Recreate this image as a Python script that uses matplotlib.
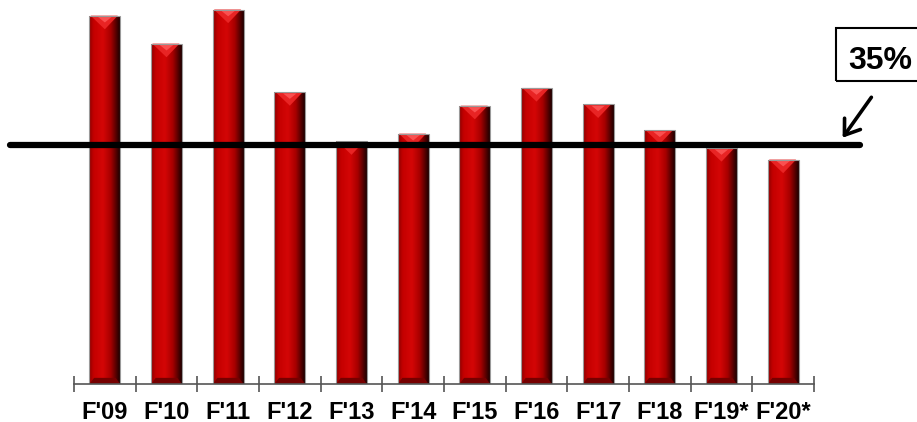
import numpy as np
import matplotlib.pyplot as plt
from matplotlib.colors import LinearSegmentedColormap
from matplotlib.patches import Polygon, Rectangle, FancyArrowPatch

plt.rcParams['font.family'] = ['Liberation Sans', 'DejaVu Sans']

labels = ["F'09", "F'10", "F'11", "F'12", "F'13", "F'14", "F'15", "F'16",
          "F'17", "F'18", "F'19*", "F'20*"]
values = [54.0, 49.9, 54.9, 42.8, 35.6, 36.7, 40.8, 43.4, 41.0, 37.2, 34.6, 32.9]
target = 35
target_label = "35%"

W, H = 917, 422
fig = plt.figure(figsize=(W / 100, H / 100), dpi=100)
ax = fig.add_axes([74 / W, 38 / H, 740 / W, 382 / H])

x = np.arange(len(labels))
bars = ax.bar(x, values, width=0.5, color='none', edgecolor='#9a9a9a',
              linewidth=0.8, zorder=2)

# cylinder-like shading across each bar
shade = LinearSegmentedColormap.from_list('bar', [
    (0.0, '#8a0000'), (0.15, '#c40000'), (0.45, '#d40606'),
    (0.7, '#a80000'), (0.88, '#540000'), (1.0, '#1c0000')])
grad = np.linspace(0, 1, 256).reshape(1, -1)

for b, v in zip(bars, values):
    x0, w = b.get_x(), b.get_width()
    im = ax.imshow(grad, cmap=shade, extent=[x0, x0 + w, 0, v], aspect='auto',
                   interpolation='bicubic', zorder=1)
    im.set_clip_path(b)
    # bevel at the top
    ax.add_patch(Polygon([[x0 + 0.02, v], [x0 + w - 0.04, v], [x0 + w / 2, v - 2.0]],
                         closed=True, fc='#e82424', ec='none', zorder=1.5))
    ax.add_patch(Polygon([[x0 + w * 0.28, v - 0.2], [x0 + w * 0.72, v - 0.2],
                          [x0 + w / 2, v - 1.0]],
                         closed=True, fc='#fa5050', ec='none', zorder=1.6))
    # darker bevel at the base
    ax.add_patch(Polygon([[x0, 0], [x0 + w, 0], [x0 + w * 0.85, 0.9], [x0 + w * 0.15, 0.9]],
                         closed=True, fc='#760000', ec='none', zorder=1.5))

ax.set_xlim(-0.5, len(labels) - 0.5)
ax.set_ylim(0, 56)

ax.set_xticks(x)
ax.set_xticklabels(labels, fontsize=17, fontweight='bold')
ax.set_xticks(np.arange(-0.5, len(labels), 1), minor=True)
ax.tick_params(axis='x', which='major', length=0, pad=12)
ax.tick_params(axis='x', which='minor', direction='inout', length=11,
               width=1.2, color='#555555')
ax.set_yticks([])
for s in ['top', 'left', 'right']:
    ax.spines[s].set_visible(False)
ax.spines['bottom'].set_color('#555555')
ax.spines['bottom'].set_linewidth(1.2)

# target line
ax.plot([-1.54, 12.25], [target, target], color='black', lw=4.5,
        solid_capstyle='round', clip_on=False, zorder=3)

# label box and arrow
fig.patches.append(Rectangle((836 / W, (H - 81) / H), 100 / W, 53 / H,
                             transform=fig.transFigure, fill=False,
                             ec='black', lw=1.5))
fig.text(880 / W, (H - 69) / H, target_label, ha='center', va='baseline',
         fontsize=23, fontweight='bold')
fig.patches.append(FancyArrowPatch((873 / W, (H - 95) / H), (841 / W, (H - 140) / H),
                                   transform=fig.transFigure,
                                   arrowstyle='->,head_length=0.5,head_width=0.35',
                                   mutation_scale=20, lw=2.6, color='black'))

fig.savefig('out.png', dpi=100)
